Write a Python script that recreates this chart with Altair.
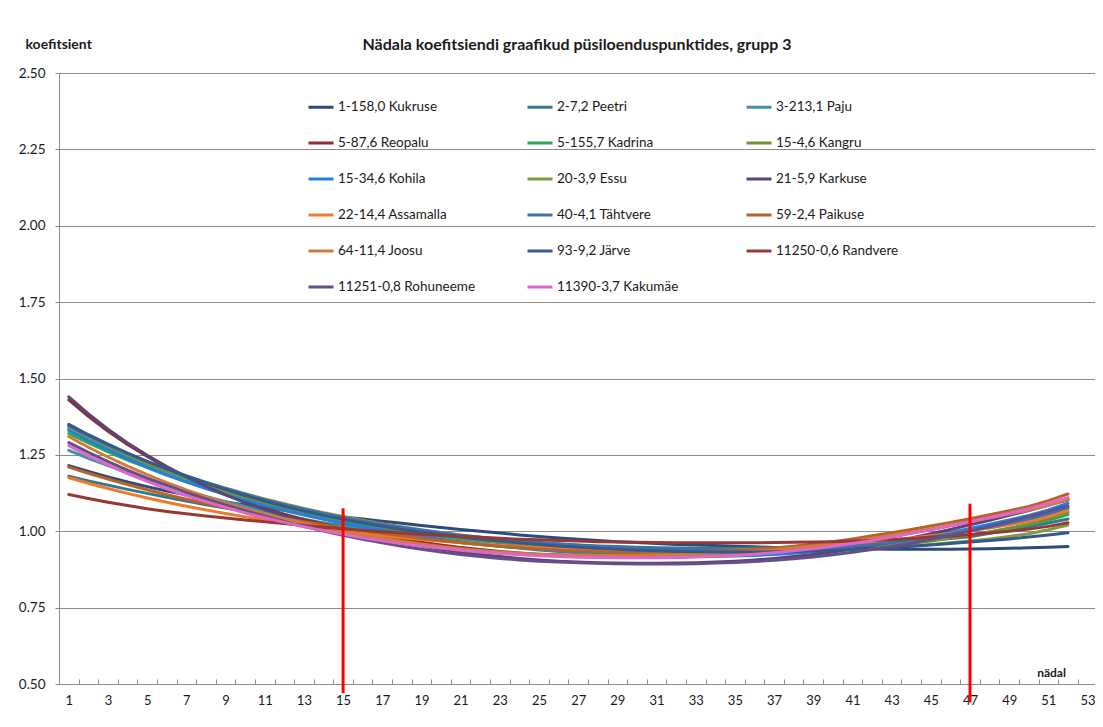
import altair as alt
import pandas as pd

# ---- data ----
weeks = list(range(1, 53))

kukruse = [1.215, 1.196, 1.178, 1.161, 1.146, 1.132, 1.119, 1.107, 1.096, 1.086,
           1.077, 1.069, 1.061, 1.054, 1.047, 1.040, 1.033, 1.026, 1.019, 1.012,
           1.006, 1.000, 0.994, 0.988, 0.983, 0.978, 0.974, 0.970, 0.966, 0.963,
           0.960, 0.957, 0.955, 0.953, 0.951, 0.949, 0.947, 0.946, 0.945, 0.944,
           0.943, 0.942, 0.941, 0.941, 0.941, 0.941, 0.942, 0.943, 0.944, 0.946,
           0.948, 0.950]
peetri = [1.180, 1.165, 1.151, 1.137, 1.124, 1.111, 1.099, 1.087, 1.076, 1.065,
          1.055, 1.045, 1.036, 1.027, 1.019, 1.011, 1.004, 0.997, 0.991, 0.985,
          0.980, 0.975, 0.970, 0.966, 0.962, 0.958, 0.955, 0.952, 0.950, 0.948,
          0.946, 0.945, 0.944, 0.944, 0.944, 0.945, 0.946, 0.948, 0.950, 0.952,
          0.955, 0.958, 0.962, 0.966, 0.971, 0.976, 0.982, 0.993, 1.004, 1.015,
          1.027, 1.040]
paju = [1.265, 1.239, 1.215, 1.192, 1.171, 1.151, 1.132, 1.114, 1.097, 1.081,
        1.066, 1.052, 1.039, 1.027, 1.016, 1.005, 0.995, 0.986, 0.978, 0.970,
        0.963, 0.957, 0.951, 0.946, 0.942, 0.938, 0.935, 0.932, 0.930, 0.928,
        0.927, 0.926, 0.926, 0.926, 0.927, 0.929, 0.931, 0.934, 0.938, 0.943,
        0.949, 0.956, 0.964, 0.973, 0.982, 0.992, 1.003, 1.014, 1.026, 1.039,
        1.055, 1.075]
reopalu = [1.430, 1.376, 1.327, 1.284, 1.245, 1.209, 1.176, 1.147, 1.120, 1.096,
           1.075, 1.056, 1.039, 1.024, 1.010, 0.997, 0.985, 0.974, 0.964, 0.955,
           0.947, 0.940, 0.934, 0.929, 0.925, 0.922, 0.919, 0.917, 0.916, 0.915,
           0.915, 0.916, 0.917, 0.919, 0.922, 0.926, 0.931, 0.937, 0.944, 0.952,
           0.961, 0.971, 0.982, 0.994, 1.006, 1.019, 1.032, 1.045, 1.059, 1.073,
           1.087, 1.102]
kadrina = [1.320, 1.289, 1.260, 1.233, 1.208, 1.184, 1.162, 1.141, 1.122, 1.104,
           1.087, 1.071, 1.057, 1.044, 1.032, 1.021, 1.010, 1.000, 0.991, 0.983,
           0.975, 0.968, 0.962, 0.956, 0.951, 0.946, 0.942, 0.939, 0.936, 0.934,
           0.932, 0.931, 0.930, 0.930, 0.930, 0.931, 0.933, 0.935, 0.938, 0.942,
           0.946, 0.951, 0.957, 0.964, 0.971, 0.979, 0.988, 0.998, 1.009, 1.021,
           1.036, 1.055]
kangru = [1.335, 1.303, 1.273, 1.245, 1.219, 1.195, 1.172, 1.151, 1.131, 1.112,
          1.095, 1.079, 1.064, 1.050, 1.037, 1.025, 1.014, 1.004, 0.995, 0.986,
          0.978, 0.971, 0.964, 0.958, 0.953, 0.948, 0.944, 0.940, 0.937, 0.934,
          0.932, 0.930, 0.929, 0.928, 0.928, 0.929, 0.930, 0.932, 0.935, 0.938,
          0.942, 0.947, 0.953, 0.960, 0.968, 0.977, 0.987, 0.998, 1.010, 1.023,
          1.040, 1.062]
kohila = [1.330, 1.297, 1.266, 1.237, 1.210, 1.185, 1.162, 1.140, 1.120, 1.101,
          1.084, 1.068, 1.053, 1.039, 1.026, 1.014, 1.003, 0.993, 0.983, 0.974,
          0.966, 0.958, 0.951, 0.945, 0.939, 0.934, 0.930, 0.926, 0.923, 0.921,
          0.919, 0.918, 0.918, 0.918, 0.919, 0.921, 0.924, 0.928, 0.933, 0.939,
          0.946, 0.954, 0.963, 0.973, 0.984, 0.996, 1.009, 1.023, 1.037, 1.052,
          1.070, 1.092]
essu = [1.340, 1.308, 1.279, 1.252, 1.227, 1.203, 1.181, 1.160, 1.141, 1.123,
        1.106, 1.090, 1.075, 1.061, 1.048, 1.036, 1.025, 1.015, 1.005, 0.996,
        0.988, 0.980, 0.973, 0.967, 0.961, 0.956, 0.951, 0.947, 0.944, 0.941,
        0.939, 0.937, 0.936, 0.935, 0.935, 0.935, 0.936, 0.937, 0.938, 0.940,
        0.942, 0.945, 0.948, 0.952, 0.957, 0.962, 0.968, 0.975, 0.983, 0.992,
        1.005, 1.020]
karkuse = [1.440, 1.384, 1.334, 1.289, 1.249, 1.212, 1.178, 1.147, 1.119, 1.094,
           1.071, 1.051, 1.033, 1.016, 1.001, 0.987, 0.974, 0.962, 0.951, 0.941,
           0.932, 0.924, 0.917, 0.911, 0.906, 0.902, 0.899, 0.897, 0.896, 0.895,
           0.895, 0.896, 0.897, 0.899, 0.902, 0.906, 0.911, 0.917, 0.924, 0.932,
           0.942, 0.953, 0.965, 0.978, 0.992, 1.006, 1.021, 1.036, 1.052, 1.068,
           1.085, 1.105]
assamalla = [1.175, 1.157, 1.140, 1.124, 1.109, 1.095, 1.082, 1.070, 1.058, 1.047,
             1.037, 1.027, 1.018, 1.009, 1.001, 0.993, 0.986, 0.979, 0.973, 0.967,
             0.962, 0.957, 0.953, 0.949, 0.946, 0.943, 0.941, 0.939, 0.938, 0.937,
             0.937, 0.937, 0.937, 0.938, 0.939, 0.941, 0.943, 0.946, 0.950, 0.954,
             0.959, 0.965, 0.971, 0.978, 0.985, 0.993, 1.002, 1.011, 1.021, 1.032,
             1.048, 1.068]
tahtvere = [1.345, 1.312, 1.282, 1.254, 1.228, 1.204, 1.181, 1.160, 1.140, 1.121,
            1.103, 1.087, 1.072, 1.058, 1.045, 1.033, 1.022, 1.012, 1.003, 0.995,
            0.987, 0.980, 0.974, 0.968, 0.963, 0.958, 0.954, 0.950, 0.947, 0.944,
            0.942, 0.940, 0.939, 0.938, 0.938, 0.938, 0.939, 0.941, 0.943, 0.946,
            0.951, 0.957, 0.964, 0.972, 0.981, 0.991, 1.002, 1.014, 1.027, 1.041,
            1.058, 1.078]
paikuse = [1.210, 1.190, 1.171, 1.153, 1.136, 1.120, 1.105, 1.091, 1.078, 1.065,
           1.053, 1.042, 1.031, 1.021, 1.011, 1.002, 0.993, 0.985, 0.977, 0.970,
           0.963, 0.957, 0.951, 0.946, 0.942, 0.938, 0.935, 0.933, 0.931, 0.930,
           0.930, 0.930, 0.931, 0.933, 0.936, 0.940, 0.945, 0.951, 0.958, 0.966,
           0.975, 0.985, 0.995, 1.006, 1.017, 1.029, 1.041, 1.054, 1.067, 1.081,
           1.100, 1.122]
joosu = [1.310, 1.275, 1.243, 1.213, 1.185, 1.159, 1.135, 1.113, 1.093, 1.074,
         1.057, 1.041, 1.026, 1.012, 0.999, 0.988, 0.977, 0.967, 0.958, 0.950,
         0.943, 0.937, 0.932, 0.928, 0.925, 0.923, 0.922, 0.921, 0.921, 0.921,
         0.922, 0.923, 0.925, 0.927, 0.930, 0.934, 0.939, 0.945, 0.952, 0.960,
         0.968, 0.977, 0.987, 0.997, 1.008, 1.019, 1.031, 1.043, 1.056, 1.069,
         1.085, 1.104]
jarve = [1.350, 1.316, 1.285, 1.256, 1.229, 1.204, 1.180, 1.158, 1.137, 1.117,
         1.099, 1.082, 1.066, 1.052, 1.039, 1.027, 1.016, 1.006, 0.997, 0.989,
         0.981, 0.974, 0.968, 0.962, 0.957, 0.952, 0.948, 0.944, 0.941, 0.938,
         0.936, 0.934, 0.933, 0.932, 0.932, 0.932, 0.933, 0.934, 0.935, 0.937,
         0.940, 0.943, 0.947, 0.951, 0.955, 0.960, 0.965, 0.970, 0.975, 0.981,
         0.988, 0.995]
randvere = [1.120, 1.107, 1.095, 1.084, 1.074, 1.065, 1.057, 1.050, 1.043, 1.037,
            1.031, 1.025, 1.019, 1.013, 1.008, 1.003, 0.998, 0.994, 0.990, 0.986,
            0.983, 0.980, 0.977, 0.974, 0.972, 0.970, 0.968, 0.966, 0.965, 0.964,
            0.963, 0.962, 0.962, 0.962, 0.962, 0.962, 0.963, 0.964, 0.965, 0.966,
            0.968, 0.970, 0.973, 0.976, 0.980, 0.984, 0.989, 0.994, 1.000, 1.007,
            1.016, 1.028]
rohuneeme = [1.290, 1.258, 1.228, 1.200, 1.174, 1.150, 1.127, 1.106, 1.086, 1.067,
             1.049, 1.032, 1.016, 1.001, 0.987, 0.974, 0.962, 0.951, 0.941, 0.932,
             0.924, 0.917, 0.911, 0.906, 0.902, 0.899, 0.897, 0.895, 0.894, 0.893,
             0.893, 0.893, 0.894, 0.896, 0.898, 0.901, 0.905, 0.910, 0.916, 0.923,
             0.931, 0.940, 0.950, 0.961, 0.974, 0.987, 1.001, 1.016, 1.032, 1.048,
             1.065, 1.083]
kakumae = [1.280, 1.247, 1.217, 1.189, 1.163, 1.139, 1.117, 1.097, 1.078, 1.060,
           1.044, 1.029, 1.015, 1.002, 0.990, 0.979, 0.969, 0.960, 0.952, 0.945,
           0.938, 0.932, 0.927, 0.923, 0.920, 0.917, 0.915, 0.914, 0.913, 0.913,
           0.913, 0.914, 0.916, 0.918, 0.921, 0.925, 0.930, 0.936, 0.943, 0.951,
           0.960, 0.970, 0.981, 0.993, 1.005, 1.018, 1.031, 1.045, 1.059, 1.074,
           1.091, 1.110]

series_names = ["1-158,0 Kukruse", "2-7,2 Peetri", "3-213,1 Paju",
                "5-87,6 Reopalu", "5-155,7 Kadrina", "15-4,6 Kangru",
                "15-34,6 Kohila", "20-3,9 Essu", "21-5,9 Karkuse",
                "22-14,4 Assamalla", "40-4,1 Tähtvere", "59-2,4 Paikuse",
                "64-11,4 Joosu", "93-9,2 Järve", "11250-0,6 Randvere",
                "11251-0,8 Rohuneeme", "11390-3,7 Kakumäe"]
series_values = [kukruse, peetri, paju, reopalu, kadrina, kangru, kohila, essu,
                 karkuse, assamalla, tahtvere, paikuse, joosu, jarve, randvere,
                 rohuneeme, kakumae]
series_colors = ["#2C4A7A", "#2F7A8C", "#3E93AB", "#8E2F2D", "#2FA84F", "#71903A",
                 "#1F80E0", "#7E9C42", "#5A4478", "#F07A2A", "#4170AE", "#B8622A",
                 "#D27A38", "#35598C", "#953836", "#664F88", "#E066C8"]
series_widths = [3, 3, 3, 3, 1, 3, 1, 3, 3, 1, 3, 3, 3, 3, 3, 3, 3]

y_ticks = [0.5, 0.75, 1.0, 1.25, 1.5, 1.75, 2.0, 2.25, 2.5]
x_ticks = list(range(1, 54))

marker_weeks = [15, 47]
marker_top = [1.075, 1.09]
marker_bottom = [0.47, 0.44]

# ---- build tables ----
rows = []
for name, vals in zip(series_names, series_values):
    for w, v in zip(weeks, vals):
        rows.append({"series": name, "week": w, "value": v})
df = pd.DataFrame(rows)
markers = pd.DataFrame({"week": marker_weeks, "top": marker_top, "bottom": marker_bottom})

# legend is laid out column by column by Vega: reorder so rows read like the reference
N_COLS = 3
n_rows = -(-len(series_names) // N_COLS)
legend_order = []
for c in range(N_COLS):
    for r in range(n_rows):
        i = r * N_COLS + c
        if i < len(series_names):
            legend_order.append(i)
dom = [series_names[i] for i in legend_order]
rng_col = [series_colors[i] for i in legend_order]
rng_w = [series_widths[i] for i in legend_order]

FONT = "Lato"
W = 1036
H = 611
X_MAX = 53.38
half_week = W / (X_MAX - 0.5) / 2
x_scale = alt.Scale(domain=[0.5, X_MAX], nice=False, zero=False)
y_scale = alt.Scale(domain=[0.5, 2.5], nice=False, zero=False)

x_axis = alt.Axis(values=x_ticks, tickCount=80, format="d",
                  labelExpr="datum.value % 2 == 1 ? datum.label : ''",
                  labelOverlap=False, grid=False, domain=False, offset=-5, tickSize=5,
                  tickColor="#8C8C8C", tickOffset=-half_week, labelOffset=half_week,
                  labelPadding=10, labelFontSize=13, labelFont=FONT, labelColor="#1a1a1a",
                  labelAngle=0,
                  title="nädal", titleFont=FONT, titleFontSize=12, titleFontWeight="bold",
                  titleColor="#1a1a1a", titleX=992, titleY=-7, titleAlign="center",
                  titleBaseline="middle")
y_axis = alt.Axis(values=y_ticks, format=".2f", grid=True, gridColor="#8C8C8C",
                  domainColor="#8C8C8C", tickColor="#8C8C8C", tickSize=4, labelPadding=10,
                  labelFontSize=13.5, labelFont=FONT, labelColor="#1a1a1a",
                  title="koefitsient", titleAngle=0, titleX=-34, titleY=-29,
                  titleAlign="left", titleBaseline="middle", titleFont=FONT,
                  titleFontSize=14, titleFontWeight="bold", titleColor="#1a1a1a")

legend = alt.Legend(orient="none", legendX=248, legendY=20, columns=N_COLS, title=None,
                    symbolType="stroke", symbolSize=625, labelFont=FONT, labelFontSize=13.5,
                    labelColor="#1a1a1a", gridAlign="all", columnPadding=45, rowPadding=15,
                    labelOffset=3, labelLimit=300)

lines = alt.Chart(df).mark_line(strokeJoin="round", strokeCap="round").encode(
    x=alt.X("week:Q", scale=x_scale, axis=x_axis),
    y=alt.Y("value:Q", scale=y_scale, axis=y_axis),
    color=alt.Color("series:N", scale=alt.Scale(domain=dom, range=rng_col), legend=legend),
    strokeWidth=alt.StrokeWidth("series:N", scale=alt.Scale(domain=dom, range=rng_w),
                                legend=legend),
    order=alt.Order("week:Q"),
)

rules = alt.Chart(markers).mark_rule(color="#FF0000", strokeWidth=3).encode(
    x=alt.X("week:Q", scale=x_scale),
    y=alt.Y("top:Q", scale=y_scale),
    y2="bottom:Q",
)

chart = alt.layer(lines, rules).properties(
    width=W, height=H,
    title=alt.TitleParams("Nädala koefitsiendi graafikud püsiloenduspunktides, grupp 3",
                          font=FONT, fontSize=16, fontWeight="bold", color="#1a1a1a",
                          anchor="middle", frame="group", offset=20, dy=36),
    autosize=alt.AutoSizeParams(type="none"),
    padding={"left": 51, "top": 65, "right": 0, "bottom": 30},
).configure_view(stroke=None).configure(background="white")

chart.save("out.html", embed_options={"renderer": "svg", "actions": False})
